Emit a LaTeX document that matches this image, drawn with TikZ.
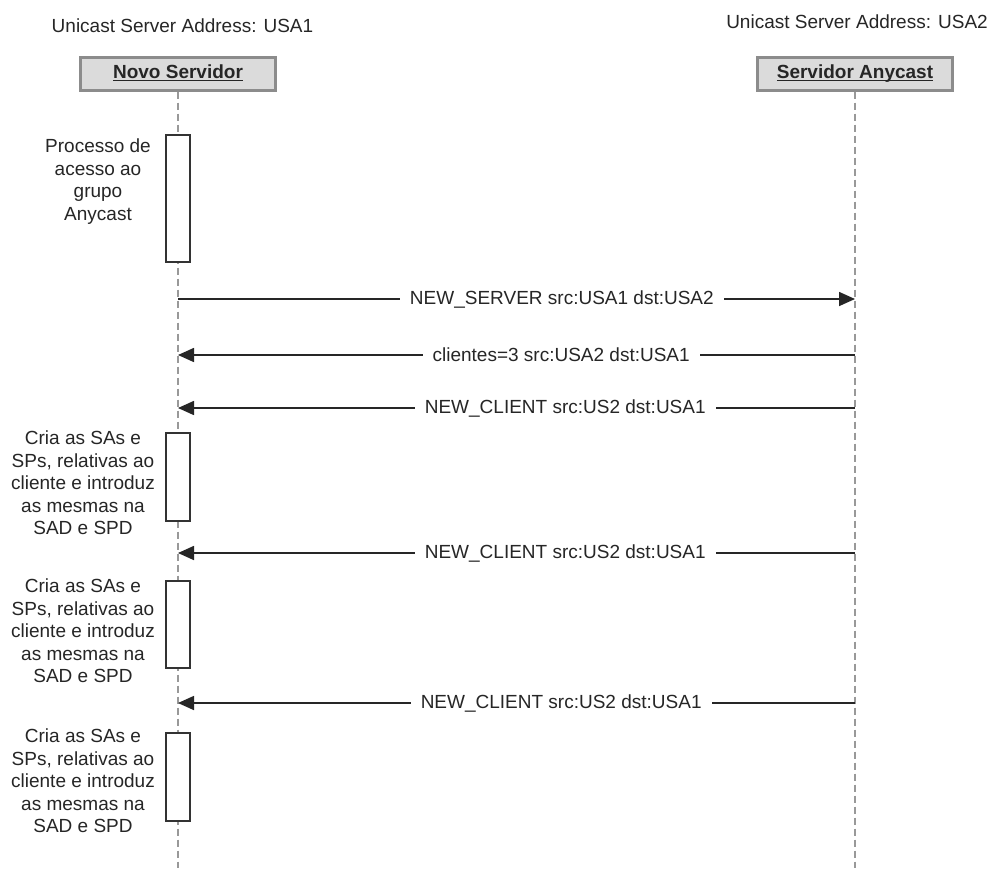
\documentclass[tikz,border=0pt]{standalone}
\usepackage{fontspec}
\setmainfont{Liberation Sans}
\usetikzlibrary{arrows.meta}
\begin{document}
\begin{tikzpicture}[x=0.5pt,y=-0.5pt,
  txt/.style={font=\fontsize{9.5}{11.25}\selectfont, inner sep=0pt, text=black!85},
  head/.style={draw=black!45, line width=1.5pt, fill=black!14, minimum width=97.5pt, minimum height=16.5pt, inner sep=0pt, text height=7pt, text depth=2.5pt, font=\fontsize{9.5}{11}\selectfont\bfseries, text=black!85},
  life/.style={draw=black!40, line width=1.1pt, dash pattern=on 3.5pt off 2pt},
  act/.style={draw=black!80, line width=0.75pt, fill=white, minimum width=12pt, inner sep=0pt},
  msg/.style={draw=black!85, line width=0.8pt, -{Triangle[length=8pt,width=7pt]}},
  lbl/.style={txt, fill=white, inner xsep=5pt, inner ysep=2pt},
  note/.style={txt, align=center}]
\useasboundingbox (0,0) rectangle (989,868);
\fill[white] (0,0) rectangle (989,868);
% address labels
\node[txt] (ua1) at (182.5,26) {Unicast Server Address: USA1};
\node[txt] (ua2) at (857,22) {Unicast Server Address: USA2};
% participants
\node[head] (ns) at (178,73.5) {\underline{\smash{Novo Servidor}}};
\node[head] (sa) at (855,73.5) {\underline{\smash{Servidor Anycast}}};
\coordinate (nsEnd) at (178,868);
\coordinate (saEnd) at (855,868);
\draw[life] (ns.south) -- (nsEnd);
\draw[life] (sa.south) -- (saEnd);
% activation boxes
\node[act, minimum height=63.5pt] (a1) at (178,198.5) {};
\node[act, minimum height=44pt] (a2) at (178,477) {};
\node[act, minimum height=43.5pt] (a3) at (178,624.5) {};
\node[act, minimum height=44pt] (a4) at (178,777) {};
% notes
\node[note] (n1) at (98,181.5) {Processo de\\acesso ao\\grupo\\Anycast};
\node[note] (n2) at (83,483) {Cria as SAs e\\SPs, relativas ao\\cliente e introduz\\as mesmas na\\SAD e SPD};
\node[note] (n3) at (83,631) {Cria as SAs e\\SPs, relativas ao\\cliente e introduz\\as mesmas na\\SAD e SPD};
\node[note] (n4) at (83,781) {Cria as SAs e\\SPs, relativas ao\\cliente e introduz\\as mesmas na\\SAD e SPD};
% messages
\coordinate (m1a) at (178,299); \coordinate (m1b) at (855,299);
\coordinate (m2a) at (855,355); \coordinate (m2b) at (178,355);
\coordinate (m3a) at (855,408); \coordinate (m3b) at (178,408);
\coordinate (m4a) at (855,553); \coordinate (m4b) at (178,553);
\coordinate (m5a) at (855,703); \coordinate (m5b) at (178,703);
\draw[msg] (m1a) -- node[lbl,pos=0.567] (l1) {NEW\_SERVER src:USA1 dst:USA2} (m1b);
\draw[msg] (m2a) -- node[lbl,pos=0.434] (l2) {clientes=3 src:USA2 dst:USA1} (m2b);
\draw[msg] (m3a) -- node[lbl,pos=0.428] (l3) {NEW\_CLIENT src:US2 dst:USA1} (m3b);
\draw[msg] (m4a) -- node[lbl,pos=0.428] (l4) {NEW\_CLIENT src:US2 dst:USA1} (m4b);
\draw[msg] (m5a) -- node[lbl,pos=0.434] (l5) {NEW\_CLIENT src:US2 dst:USA1} (m5b);
\end{tikzpicture}
\end{document}
